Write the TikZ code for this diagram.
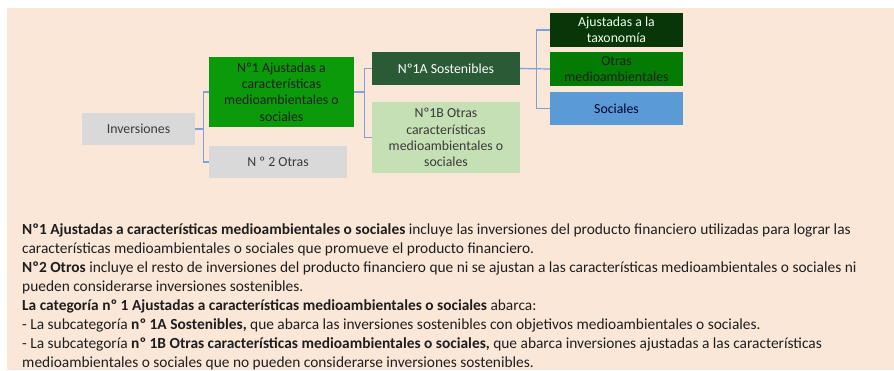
\documentclass[tikz,border=0pt]{standalone}
\usepackage{fontspec}
\setmainfont{Carlito}
\definecolor{peach}{HTML}{FBE7D8}
\definecolor{boxgrey}{HTML}{D9D9D9}
\definecolor{greenA}{HTML}{0A9A0A}
\definecolor{darkA}{HTML}{2B5A36}
\definecolor{lightA}{HTML}{C5E0B4}
\definecolor{darkest}{HTML}{083608}
\definecolor{greenB}{HTML}{047C04}
\definecolor{blueS}{HTML}{5B9BD5}
\definecolor{conn}{HTML}{7FA0D8}
\definecolor{txtgrey}{HTML}{3A3A3A}
\definecolor{bodytxt}{HTML}{1E1E1E}
\tikzset{
  box/.style={rectangle, inner sep=0pt, align=center, font=\fontsize{13.8}{16.3}\selectfont, text=txtgrey},
  link/.style={draw=conn, line width=1.2pt},
  bodyline/.style={anchor=base west, inner sep=0pt, font=\fontsize{15.4}{19}\selectfont, text=bodytxt}
}
\begin{document}
\begin{tikzpicture}[x=1pt,y=-1pt]
\useasboundingbox (0,0) rectangle (894,370);
\fill[white] (0,0) rectangle (894,370);
\fill[peach] (7,8) rectangle (894,370);
\node[box, fill=boxgrey, minimum width=113pt, minimum height=32pt] (inv) at (138.5,129) {Inversiones};
\node[box, fill=greenA, text=black!88, minimum width=145pt, minimum height=70pt] (n1) at (281.5,92) {Nº1 Ajustadas a\\características\\medioambientales o\\sociales};
\node[box, fill=boxgrey, minimum width=138pt, minimum height=32pt] (n2) at (278,162) {N º 2 Otras};
\node[box, fill=darkA, text=white, minimum width=148pt, minimum height=33pt] (n1a) at (446,68.5) {Nº1A Sostenibles};
\node[box, fill=lightA, minimum width=148pt, minimum height=71pt] (n1b) at (446,137.5) {Nº1B Otras\\características\\medioambientales o\\sociales};
\node[box, fill=darkest, text=white!92!green, minimum width=133pt, minimum height=34pt] (aj) at (616.5,30) {Ajustadas a la\\taxonomía};
\node[box, fill=greenB, text=black!88, minimum width=133pt, minimum height=34pt] (otr) at (616.5,69) {Otras\\medioambientales};
\node[box, fill=blueS, text=black!80!blue, minimum width=133pt, minimum height=33pt] (soc) at (616.5,108.5) {Sociales};
\draw[link] (inv.east) -- ++(8,0) |- (n1.west);
\draw[link] (inv.east) -- ++(8,0) |- (n2.west);
\draw[link] (n1.east) -- ++(10,0) |- (n1a.west);
\draw[link] (n1.east) -- ++(10,0) |- (n1b.west);
\draw[link] (n1a.east) -- ++(16,0) |- (aj.west);
\draw[link] (n1a.east) -- (otr.west);
\draw[link] (n1a.east) -- ++(16,0) |- (soc.west);
\node[bodyline] (l1) at (22,234) {\textbf{Nº1 Ajustadas a características medioambientales o sociales} incluye las inversiones del producto financiero utilizadas para lograr las};
\node[bodyline] (l2) at (22,253) {características medioambientales o sociales que promueve el producto financiero.};
\node[bodyline] (l3) at (22,272) {\textbf{Nº2 Otros} incluye el resto de inversiones del producto financiero que ni se ajustan a las características medioambientales o sociales ni};
\node[bodyline] (l4) at (22,291) {pueden considerarse inversiones sostenibles.};
\node[bodyline] (l5) at (22,310) {\textbf{La categoría nº 1 Ajustadas a características medioambientales o sociales} abarca:};
\node[bodyline] (l6) at (22,329) {- La subcategoría \textbf{nº 1A Sostenibles,} que abarca las inversiones sostenibles con objetivos medioambientales o sociales.};
\node[bodyline] (l7) at (22,348) {- La subcategoría \textbf{nº 1B Otras características medioambientales o sociales,} que abarca inversiones ajustadas a las características};
\node[bodyline] (l8) at (22,367) {medioambientales o sociales que no pueden considerarse inversiones sostenibles.};
\end{tikzpicture}
\end{document}
